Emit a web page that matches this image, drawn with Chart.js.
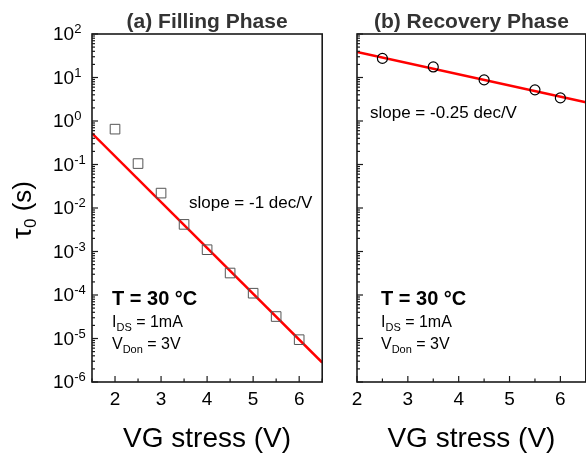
<!DOCTYPE html>
<html>
<head>
<meta charset="utf-8">
<script src="https://cdn.jsdelivr.net/npm/chart.js@4"></script>
<style>
html, body { margin: 0; padding: 0; background: #fff; overflow: hidden; width: 586px; height: 453px; }
canvas { position: absolute; top: 0; }
#left { left: 0; }
#right { left: 330px; }
</style>
</head>
<body>
<canvas id="left" width="330" height="453"></canvas>
<canvas id="right" width="262" height="453"></canvas>
<script>
// (a) filling phase, squares + fit
var fillVg = [2, 2.5, 3, 3.5, 4, 4.5, 5, 5.5, 6];
var fillTau = [0.65, 0.105, 0.022, 0.0042, 0.0011, 0.00032, 0.00011, 0.000032, 0.0000094];
var fillFitVg = [1.5, 6.5];
var fillFitTau = [0.52, 0.0000028];

// (b) recovery phase, circles + fit
var recVg = [2.5, 3.5, 4.5, 5.5, 6];
var recTau = [27.5, 17.5, 8.8, 5.2, 3.4];
var recFitVg = [2, 6.5];
var recFitTau = [38.5, 2.7];

// axis ticks
var xTicks = [2, 3, 4, 5, 6];
var yExps = [2, 1, 0, -1, -2, -3, -4, -5, -6];

var FONT = '"Liberation Sans", Arial, sans-serif';

function toPoints(xs, ys) {
    var out = [];
    for (var i = 0; i < xs.length; i++) {
        out.push({ x: xs[i], y: ys[i] });
    }
    return out;
}

function seg(ctx, x1, y1, x2, y2) {
    ctx.beginPath();
    ctx.moveTo(x1, y1);
    ctx.lineTo(x2, y2);
    ctx.stroke();
}

// draws text made of pieces with own size / offset (sub and superscripts)
function rich(ctx, x, y, parts, align) {
    var w = 0;
    for (var i = 0; i < parts.length; i++) {
        ctx.font = (parts[i].bold ? 'bold ' : '') + parts[i].size + 'px ' + FONT;
        parts[i].w = ctx.measureText(parts[i].t).width;
        w += parts[i].w;
    }
    var cx = align == 'center' ? x - w / 2 : x;
    ctx.textAlign = 'left';
    ctx.textBaseline = 'alphabetic';
    for (var j = 0; j < parts.length; j++) {
        ctx.font = (parts[j].bold ? 'bold ' : '') + parts[j].size + 'px ' + FONT;
        ctx.fillText(parts[j].t, cx, y + (parts[j].dy || 0));
        cx += parts[j].w;
    }
}

function axesPlugin(cfg) {
    return {
        id: 'axesDraw',
        afterDraw: function(chart) {
            var ctx = chart.ctx;
            var a = chart.chartArea;
            var xs = chart.scales.x, ys = chart.scales.y;
            ctx.save();
            ctx.strokeStyle = '#1a1a1a';
            ctx.lineWidth = 1.6;
            ctx.strokeRect(a.left, a.top, a.right - a.left, a.bottom - a.top);
            ctx.lineWidth = 1.2;
            // y ticks, inward
            for (var e = -6; e <= 2; e++) {
                var v = Math.pow(10, e);
                var py = ys.getPixelForValue(v);
                seg(ctx, a.left, py, a.left + 6, py);
                if (e < 2) {
                    for (var k = 2; k <= 9; k++) {
                        var pm = ys.getPixelForValue(k * v);
                        seg(ctx, a.left, pm, a.left + 3, pm);
                    }
                }
            }
            // x ticks, inward
            for (var t = Math.ceil(xs.min * 2) / 2; t <= xs.max; t += 0.5) {
                var px = xs.getPixelForValue(t);
                var len = (t % 1 == 0) ? 6 : 3.5;
                seg(ctx, px, a.bottom, px, a.bottom - len);
            }
            ctx.fillStyle = '#000';
            // x tick labels
            ctx.font = '19px ' + FONT;
            ctx.textAlign = 'center';
            ctx.textBaseline = 'alphabetic';
            xTicks.forEach(function(t) {
                ctx.fillText(String(t), xs.getPixelForValue(t), 405);
            });
            // y tick labels
            if (cfg.yLabels) {
                yExps.forEach(function(e) {
                    var py = ys.getPixelForValue(Math.pow(10, e));
                    ctx.font = '19px ' + FONT;
                    ctx.textAlign = 'left';
                    ctx.textBaseline = 'middle';
                    ctx.fillText('10', 53, py + 1);
                    var w = ctx.measureText('10').width;
                    ctx.font = '13px ' + FONT;
                    ctx.textBaseline = 'alphabetic';
                    ctx.fillText(String(e), 53 + w, py - 1);
                });
                ctx.save();
                ctx.translate(31, 210);
                ctx.rotate(-Math.PI / 2);
                rich(ctx, 0, 0, [
                    { t: '\u03c4', size: 28 },
                    { t: '0', size: 17, dy: 5 },
                    { t: ' (s)', size: 26 }
                ], 'center');
                ctx.restore();
            }
            var cxp = (a.left + a.right) / 2;
            // panel title
            ctx.fillStyle = '#333';
            rich(ctx, cxp, 28, [{ t: cfg.title, size: 21, bold: true }], 'center');
            ctx.fillStyle = '#000';
            // axis title
            rich(ctx, cxp, 447, [{ t: 'VG stress (V)', size: 28 }], 'center');
            // notes
            rich(ctx, cfg.slopeX, cfg.slopeY, [{ t: cfg.slope, size: 17 }]);
            rich(ctx, cfg.noteX, 305, [{ t: 'T = 30 \u00b0C', size: 20, bold: true }]);
            rich(ctx, cfg.noteX, 327, [
                { t: 'I', size: 16 }, { t: 'DS', size: 11, dy: 4 }, { t: ' = 1mA', size: 16 }
            ]);
            rich(ctx, cfg.noteX, 349, [
                { t: 'V', size: 16 }, { t: 'Don', size: 11, dy: 4 }, { t: ' = 3V', size: 16 }
            ]);
            ctx.restore();
        }
    };
}

function baseOptions(xmin, xmax, yWidth, padRight) {
    return {
        responsive: false,
        animation: false,
        events: [],
        layout: { padding: { top: 34, right: padRight, left: 0, bottom: 0 } },
        plugins: { legend: { display: false }, tooltip: { enabled: false } },
        scales: {
            x: {
                type: 'linear', min: xmin, max: xmax,
                grid: { display: false }, border: { display: false }, ticks: { display: false },
                afterFit: function(s) { s.height = 71; }
            },
            y: {
                type: 'logarithmic', min: 1e-6, max: 1e2,
                grid: { display: false }, border: { display: false }, ticks: { display: false },
                afterFit: function(s) { s.width = yWidth; }
            }
        }
    };
}

var leftChart = new Chart(document.getElementById('left'), {
    type: 'scatter',
    data: {
        datasets: [{
            data: toPoints(fillVg, fillTau),
            pointStyle: 'rect',
            pointRadius: 6.8,
            borderColor: '#555',
            borderWidth: 1,
            backgroundColor: 'rgba(0,0,0,0)'
        }, {
            data: toPoints(fillFitVg, fillFitTau),
            showLine: true,
            pointRadius: 0,
            borderColor: '#ff0000',
            borderWidth: 2.5
        }]
    },
    options: baseOptions(1.5, 6.5, 92, 6),
    plugins: [axesPlugin({
        yLabels: true, title: '(a) Filling Phase',
        slope: 'slope = -1 dec/V', slopeX: 189, slopeY: 208, noteX: 112
    })]
});

var rightChart = new Chart(document.getElementById('right'), {
    type: 'scatter',
    data: {
        datasets: [{
            data: toPoints(recVg, recTau),
            pointStyle: 'circle',
            pointRadius: 5,
            borderColor: '#000',
            borderWidth: 1.2,
            backgroundColor: 'rgba(0,0,0,0)'
        }, {
            data: toPoints(recFitVg, recFitTau),
            showLine: true,
            pointRadius: 0,
            borderColor: '#ff0000',
            borderWidth: 2.5
        }]
    },
    options: baseOptions(2, 6.5, 27, 3),
    plugins: [axesPlugin({
        yLabels: false, title: '(b) Recovery Phase',
        slope: 'slope = -0.25 dec/V', slopeX: 40, slopeY: 118, noteX: 51
    })]
});
</script>
</body>
</html>
